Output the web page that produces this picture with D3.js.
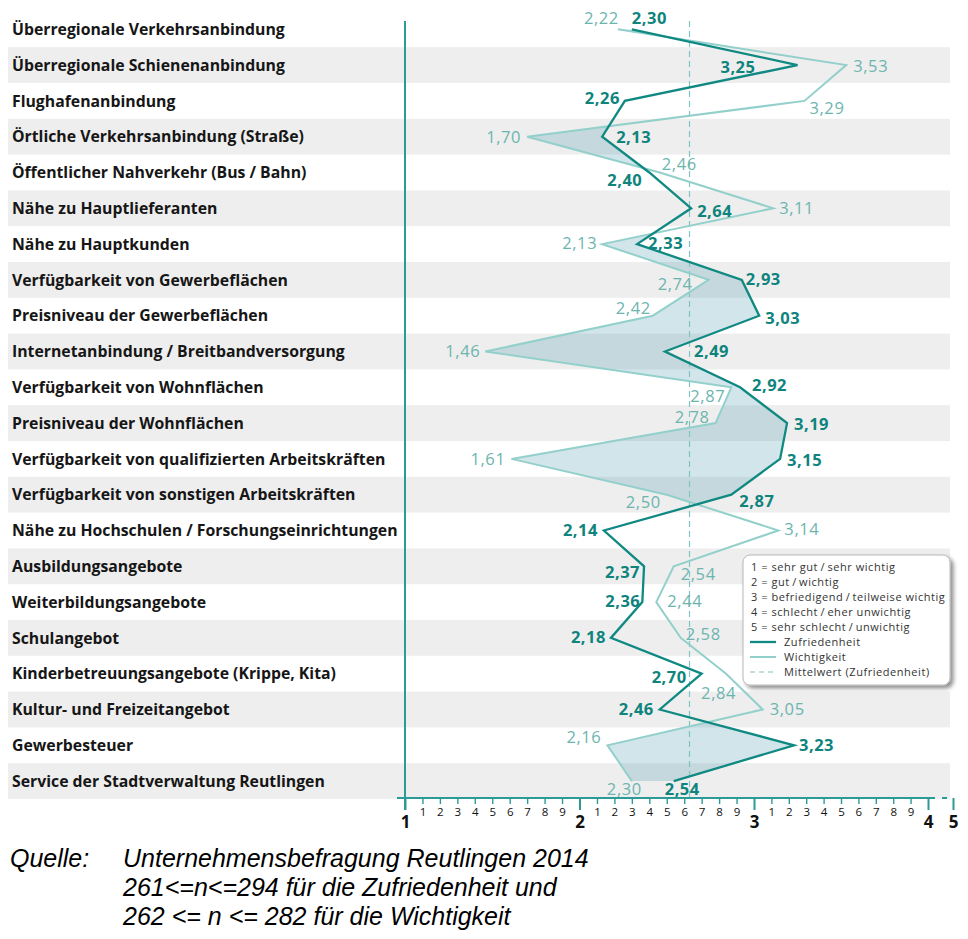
<!DOCTYPE html>
<html><head><meta charset="utf-8">
<script src="https://cdn.jsdelivr.net/npm/d3@7"></script>
<style>body{margin:0;background:#fff} svg{display:block}</style>
</head><body><svg id="c" width="968" height="939"></svg>
<script>
// ---------- data ----------
const categories = [
  "Überregionale Verkehrsanbindung",
  "Überregionale Schienenanbindung",
  "Flughafenanbindung",
  "Örtliche Verkehrsanbindung (Straße)",
  "Öffentlicher Nahverkehr (Bus / Bahn)",
  "Nähe zu Hauptlieferanten",
  "Nähe zu Hauptkunden",
  "Verfügbarkeit von Gewerbeflächen",
  "Preisniveau der Gewerbeflächen",
  "Internetanbindung / Breitbandversorgung",
  "Verfügbarkeit von Wohnflächen",
  "Preisniveau der Wohnflächen",
  "Verfügbarkeit von qualifizierten Arbeitskräften",
  "Verfügbarkeit von sonstigen Arbeitskräften",
  "Nähe zu Hochschulen / Forschungseinrichtungen",
  "Ausbildungsangebote",
  "Weiterbildungsangebote",
  "Schulangebot",
  "Kinderbetreuungsangebote (Krippe, Kita)",
  "Kultur- und Freizeitangebot",
  "Gewerbesteuer",
  "Service der Stadtverwaltung Reutlingen"
];
const zufriedenheit = [2.30,3.25,2.26,2.13,2.40,2.64,2.33,2.93,3.03,2.49,2.92,3.19,3.15,2.87,2.14,2.37,2.36,2.18,2.70,2.46,3.23,2.54];
const wichtigkeit   = [2.22,3.53,3.29,1.70,2.46,3.11,2.13,2.74,2.42,1.46,2.87,2.78,1.61,2.50,3.14,2.54,2.44,2.58,2.84,3.05,2.16,2.30];
const axisMajor = [1,2,3,4,5];
const legendScale = [
  "1 = sehr gut\u2009/\u2009sehr wichtig",
  "2 = gut\u2009/\u2009wichtig",
  "3 = befriedigend\u2009/\u2009teilweise wichtig",
  "4 = schlecht\u2009/\u2009eher unwichtig",
  "5 = sehr schlecht\u2009/\u2009unwichtig"
];
const seriesNames = ["Zufriedenheit","Wichtigkeit","Mittelwert (Zufriedenheit)"];
const sourceLabel = "Quelle:";
const sourceLines = [
  "Unternehmensbefragung Reutlingen 2014",
  "261<=n<=294 für die Zufriedenheit und",
  "262 <= n <= 282 für die Wichtigkeit"
];

// ---------- label placement (anchor, dx, dy) ----------
const zLabelPos = [
  ["start",0,-11],["end",-42,2],["end",-5,-3],["start",14,0],["end",-7,8],["start",6,3],
  ["start",11,-1],["start",4,-1],["start",6,2],["start",29,0],["start",12,-2],["start",7,1],
  ["start",7,1],["start",8,6],["end",-6,0],["end",-4,6],["end",-2,-1],["end",-5,-1],
  ["end",-15,3],["end",-6,0],["start",5,0],["start",-9,8]
];
const wLabelPos = [
  ["end",1,-11],["start",7,1],["start",5,7],["end",-6,0],["start",2,-8],["start",6,0],
  ["end",-5,-1],["end",-16,4],["end",-2,-8],["end",-5,0],["end",-6,9],["end",-6,-6],
  ["end",-6,0],["end",-6,7],["start",6,-1],["start",7,8],["start",11,-1],["start",5,-4],
  ["end",10,19],["start",7,0],["end",-6,-8],["end",10,8]
];

// ---------- styles ----------
const C_Z = "#0f8982", C_W = "#93d0cb", C_ZT = "#0e847d", C_WT = "#6cb5af";
const C_AXIS = "#2b9b97", C_BAND = "#eeeeee", C_FILL = "#5fa3b3";
const FONT = "'Open Sans', 'DejaVu Sans', sans-serif";

const svg = d3.select("#c");
const x = d3.scaleLinear().domain(axisMajor).range([405, 579.5, 754, 928, 953]);
const y = d3.scaleBand().domain(categories).range([11.4, 799]).padding(0);
const yc = c => y(c) + y.bandwidth() / 2;
const rows = categories.map((c, i) => ({c, i, z: zufriedenheit[i], w: wichtigkeit[i]}));
const fmt = v => d3.format(".2f")(v).replace(".", ",");

// bands
svg.append("g").selectAll("rect").data(rows.filter(d => d.i % 2 === 1)).join("rect")
  .attr("x", 8).attr("width", 942).attr("y", d => y(d.c)).attr("height", y.bandwidth())
  .attr("fill", C_BAND);

// category labels
const catG = svg.append("g");
catG.selectAll("text").data(rows).join("text")
  .attr("x", 12).attr("y", d => yc(d.c)).attr("dy", "0.36em")
  .attr("font-family", FONT).attr("font-weight", 700).attr("font-size", 15)
  .attr("fill", "#161616").text(d => d.c);
// fit longest label to reference width
(function(){
  let maxW = 0;
  catG.selectAll("text").each(function(){ maxW = Math.max(maxW, this.getComputedTextLength()); });
  const fs = 15 * 386 / maxW;
  catG.selectAll("text").attr("font-size", fs);
})();

// fill between lines where Wichtigkeit < Zufriedenheit
const defs = svg.append("defs");
defs.append("clipPath").attr("id", "rightOfW").append("path")
  .attr("d", d3.area().y(d => yc(d.c)).x0(d => x(d.w)).x1(2000)(rows));
svg.append("path")
  .attr("d", d3.area().y(d => yc(d.c)).x0(d => x(d.w)).x1(d => x(d.z))(rows))
  .attr("clip-path", "url(#rightOfW)")
  .attr("fill", C_FILL).attr("fill-opacity", 0.28);

// mean line
const meanZ = d3.mean(zufriedenheit);
svg.append("line").attr("x1", x(meanZ)).attr("x2", x(meanZ)).attr("y1", 21).attr("y2", 798)
  .attr("stroke", "#7fc4c2").attr("stroke-width", 1.2).attr("stroke-dasharray", "6,4");

// lines
svg.append("path").attr("d", d3.line().x(d => x(d.w)).y(d => yc(d.c))(rows))
  .attr("fill", "none").attr("stroke", C_W).attr("stroke-width", 2).attr("stroke-linejoin", "miter");
svg.append("path").attr("d", d3.line().x(d => x(d.z)).y(d => yc(d.c))(rows))
  .attr("fill", "none").attr("stroke", C_Z).attr("stroke-width", 2.3).attr("stroke-linejoin", "miter");

// value labels
svg.append("g").selectAll("text").data(rows).join("text")
  .attr("x", d => x(d.w) + wLabelPos[d.i][1]).attr("y", d => yc(d.c) + wLabelPos[d.i][2])
  .attr("dy", "0.36em").attr("text-anchor", d => wLabelPos[d.i][0])
  .attr("font-family", FONT).attr("font-weight", 500).attr("font-size", 16.5).attr("letter-spacing", 0.6)
  .attr("fill", C_WT).text(d => fmt(d.w));
svg.append("g").selectAll("text").data(rows).join("text")
  .attr("x", d => x(d.z) + zLabelPos[d.i][1]).attr("y", d => yc(d.c) + zLabelPos[d.i][2])
  .attr("dy", "0.36em").attr("text-anchor", d => zLabelPos[d.i][0])
  .attr("font-family", FONT).attr("font-weight", 700).attr("font-size", 16.5).attr("letter-spacing", 0.5)
  .attr("fill", C_ZT).text(d => fmt(d.z));

// legend
const flt = defs.append("filter").attr("id", "shadow").attr("x", "-10%").attr("y", "-10%").attr("width", "130%").attr("height", "130%");
flt.append("feGaussianBlur").attr("in", "SourceAlpha").attr("stdDeviation", 2.2);
flt.append("feOffset").attr("dx", 2.5).attr("dy", 2.5).attr("result", "b");
flt.append("feComponentTransfer").append("feFuncA").attr("type", "linear").attr("slope", 0.45);
const fm = flt.append("feMerge"); fm.append("feMergeNode"); fm.append("feMergeNode").attr("in", "SourceGraphic");
const lg = svg.append("g").attr("transform", "translate(743,555)");
lg.append("rect").attr("width", 207).attr("height", 130).attr("rx", 7)
  .attr("fill", "#fff").attr("stroke", "#b8b8b8").attr("stroke-width", 1).attr("filter", "url(#shadow)");
const LFS = 11, LLS = 0.55;
lg.selectAll("text.sc").data(legendScale).join("text").attr("class", "sc")
  .attr("x", 8).attr("y", (d, i) => 12 + i * 15).attr("dy", "0.35em")
  .attr("font-family", FONT).attr("font-size", LFS).attr("letter-spacing", LLS).attr("fill", "#333").text(d => d);
const legSeries = [
  {name: seriesNames[0], color: C_Z, w: 2.3, dash: null},
  {name: seriesNames[1], color: C_W, w: 2, dash: null},
  {name: seriesNames[2], color: "#7fc4c2", w: 1.2, dash: "5,4"}
];
legSeries.forEach((s, i) => {
  const yy = 12 + (5 + i) * 15;
  lg.append("line").attr("x1", 7).attr("x2", 33).attr("y1", yy).attr("y2", yy)
    .attr("stroke", s.color).attr("stroke-width", s.w).attr("stroke-dasharray", s.dash);
  lg.append("text").attr("x", 41).attr("y", yy).attr("dy", "0.35em")
    .attr("font-family", FONT).attr("font-size", LFS).attr("letter-spacing", LLS).attr("fill", "#333").text(s.name);
});

// axes
const minorTicks = d3.range(1, 4).flatMap(i => d3.range(1, 10).map(j => +(i + j / 10).toFixed(1)));
const gMinor = svg.append("g").attr("transform", "translate(0,798)")
  .call(d3.axisBottom(x).tickValues(minorTicks).tickSize(6).tickPadding(4)
    .tickFormat(d => Math.round(d * 10) % 10));
gMinor.select(".domain").remove();
gMinor.selectAll(".tick line").attr("stroke", C_AXIS).attr("stroke-width", 1.4);
gMinor.selectAll(".tick text").attr("font-family", FONT).attr("font-weight", 500).attr("font-size", 11.5).attr("fill", "#111");
gMinor.attr("font-family", null).attr("font-size", null);

const gMajor = svg.append("g").attr("transform", "translate(0,798)")
  .call(d3.axisBottom(x).tickValues(axisMajor).tickSize(12).tickPadding(6).tickFormat(d3.format("d")));
gMajor.select(".domain").remove();
gMajor.selectAll(".tick line").attr("stroke", C_AXIS).attr("stroke-width", 2);
gMajor.selectAll(".tick text").attr("font-family", FONT).attr("font-weight", 700)
  .attr("font-size", 17).attr("fill", "#111");
gMajor.attr("font-family", null).attr("font-size", null);

// axis lines
svg.append("line").attr("x1", 397).attr("x2", 935).attr("y1", 798).attr("y2", 798)
  .attr("stroke", C_AXIS).attr("stroke-width", 2);
svg.append("line").attr("x1", 942).attr("x2", 947).attr("y1", 798).attr("y2", 798)
  .attr("stroke", C_AXIS).attr("stroke-width", 2);
svg.append("line").attr("x1", x(1)).attr("x2", x(1)).attr("y1", 21).attr("y2", 810)
  .attr("stroke", C_AXIS).attr("stroke-width", 2);

// source
const SRC = "'Liberation Sans', Arial, sans-serif";
svg.append("text").attr("x", 10).attr("y", 867).attr("font-family", SRC).attr("font-style", "italic")
  .attr("font-size", 25).attr("fill", "#000").text(sourceLabel);
svg.append("g").selectAll("text").data(sourceLines).join("text")
  .attr("x", 123).attr("y", (d, i) => 867 + i * 29)
  .attr("font-family", SRC).attr("font-style", "italic").attr("font-size", 25).attr("fill", "#000")
  .text(d => d);
</script>
</body></html>
